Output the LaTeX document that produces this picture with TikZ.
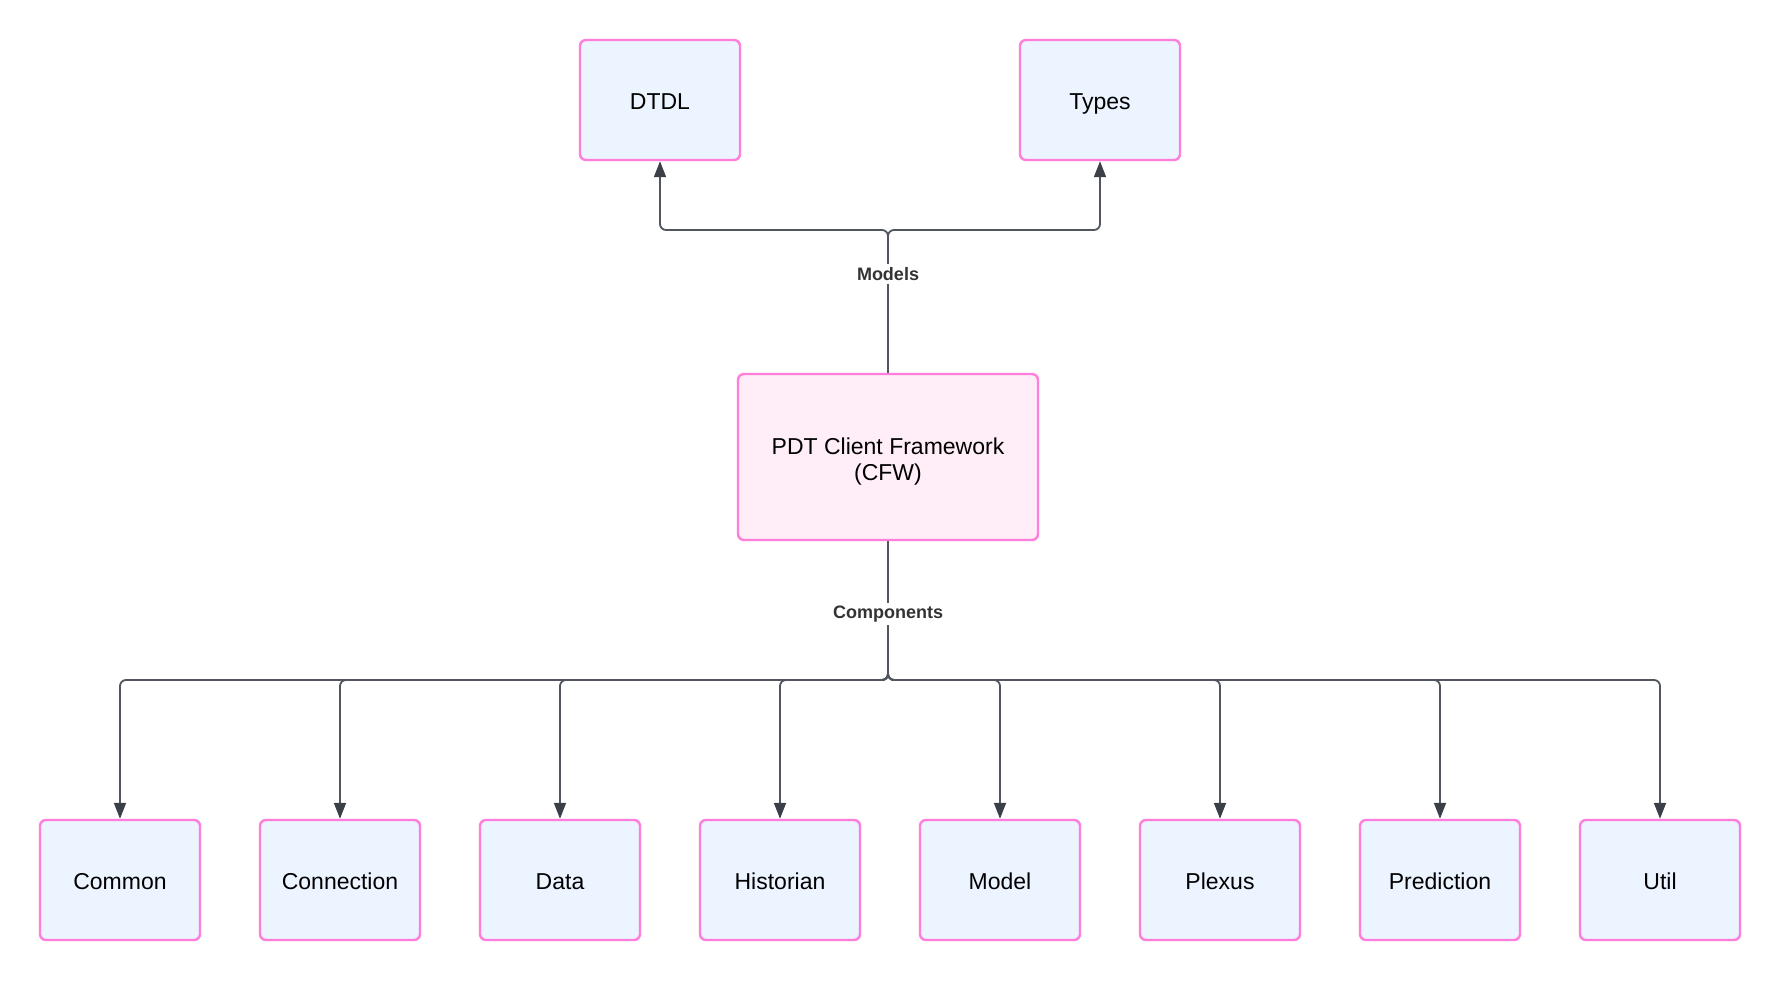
\documentclass[tikz,border=0pt]{standalone}
\usepackage{fontspec}
\setmainfont{Liberation Sans}
\usetikzlibrary{arrows.meta}
\definecolor{boxfill}{HTML}{ECF4FF}
\definecolor{cfwfill}{HTML}{FFEEF8}
\definecolor{boxline}{HTML}{FF7EDB}
\definecolor{edgecol}{HTML}{50555E}
\definecolor{tipcol}{HTML}{3B3F48}
\definecolor{lblcol}{HTML}{333333}
\tikzset{
  basebox/.style={draw=boxline, line width=2.4pt, fill=boxfill, rounded corners=6pt,
    minimum width=160pt, minimum height=120pt, inner sep=0pt,
    font=\fontsize{23}{26}\selectfont, text=black},
  leaf/.style={basebox, text height=19pt, text depth=0pt},
  hub/.style={basebox, fill=cfwfill, minimum width=300pt, minimum height=166pt, align=center},
  edge/.style={draw=edgecol, line width=1.8pt, rounded corners=6pt,
    -{Triangle[length=16pt,width=12pt,color=tipcol]}},
  lbl/.style={fill=white, inner sep=3pt, text=lblcol, font=\fontsize{18}{22}\selectfont\bfseries}
}
\begin{document}
\begin{tikzpicture}[x=1pt,y=-1pt]
\path[use as bounding box, fill=white] (0,0) rectangle (1780,980);

\node[leaf] (dtdl) at (660,100) {DTDL};
\node[leaf] (types) at (1100,100) {Types};
\node[hub] (cfw) at (888,457) {\rule{0pt}{25pt}PDT Client Framework\\(CFW)};

\node[leaf] (common) at (120,880) {Common};
\node[leaf] (connection) at (340,880) {Connection};
\node[leaf] (data) at (560,880) {Data};
\node[leaf] (historian) at (780,880) {Historian};
\node[leaf] (model) at (1000,880) {Model};
\node[leaf] (plexus) at (1220,880) {Plexus};
\node[leaf] (prediction) at (1440,880) {Prediction};
\node[leaf] (util) at (1660,880) {Util};

\coordinate (jt) at (888,230);
\coordinate (jb) at (888,680);

\draw[edge] (cfw.north) -- (jt) -| (dtdl.south);
\draw[edge] (cfw.north) -- (jt) -| (types.south);

\foreach \n in {common,connection,data,historian,model,plexus,prediction,util}{
  \draw[edge] (cfw.south) -- (jb) -| (\n.north);
}

\node[lbl] (lmodels) at (888,274) {Models};
\node[lbl] (lcomp) at (888,614) {Components};
\end{tikzpicture}
\end{document}
